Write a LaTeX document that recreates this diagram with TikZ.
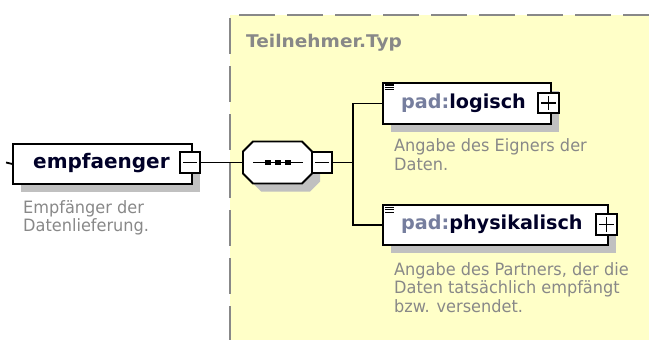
\documentclass[tikz,border=0pt]{standalone}
\usepackage{fontspec}
\setmainfont{DejaVu Sans}
\newfontfamily\descfont[FakeStretch=0.95]{DejaVu Sans}
\newfontfamily\typefont[FakeStretch=1.06]{DejaVu Sans}
\usetikzlibrary{shadows}

\definecolor{typebg}{RGB}{255,255,200}
\definecolor{frameline}{RGB}{136,136,136}
\definecolor{shadowgray}{RGB}{192,192,192}
\definecolor{descgray}{RGB}{136,136,136}
\definecolor{prefixcol}{RGB}{118,126,158}
\definecolor{namecol}{RGB}{0,0,40}

\tikzset{
  hardshadow/.style={drop shadow={shadow xshift=8pt,shadow yshift=-8pt,fill=shadowgray,opacity=1}},
  elembox/.style={draw=black,line width=1.8pt,fill=white,inner sep=0pt,anchor=north west,hardshadow},
  togglebox/.style={draw=black,line width=1.6pt,fill=white,inner sep=0pt,minimum width=20pt,minimum height=21pt},
  conn/.style={draw=black,line width=1.8pt},
  framedash/.style={draw=frameline,line width=2pt,dash pattern=on 36pt off 12pt},
  elemname/.style={anchor=base west,inner sep=0pt,font=\bfseries\fontsize{19.2}{22}\selectfont},
  desc/.style={anchor=base west,inner sep=0pt,text=descgray,font=\descfont\fontsize{17}{18.5}\selectfont},
}

% minus / plus signs inside a toggle box
\newcommand\minussign[1]{\draw[line width=1.4pt] ([xshift=4pt]#1.west) -- ([xshift=-4pt]#1.east);}
\newcommand\plussign[1]{\draw[line width=1.4pt] ([xshift=4pt]#1.west) -- ([xshift=-4pt]#1.east)
  ([yshift=-4pt]#1.north) -- ([yshift=4pt]#1.south);}
% the small "documentation" mark in the top left corner of an element
\newcommand\docmark[2]{\draw[line width=1.1pt] (#1,#2) -- ++(9,0) (#1,#2+2.4) -- ++(9,0) (#1,#2+4.8) -- ++(9,0);}

\begin{document}
\begin{tikzpicture}[x=1pt,y=-1pt]
\useasboundingbox (0,0) rectangle (649,340);

% complex type area
\fill[typebg] (230,15) rectangle (649,340);
\draw[framedash] (239,15) -- (660,15);
\draw[framedash] (230,18) -- (230,345);
\node[anchor=base west,inner sep=0pt,text=frameline,font=\typefont\bfseries\fontsize{17.5}{20}\selectfont] (typename) at (246,47) {Teilnehmer.Typ};

% root element
\node[elembox,minimum width=179pt,minimum height=40pt] (empf) at (12,143) {};
\node[elemname,text=namecol,font=\bfseries\fontsize{20}{24}\selectfont] (empfname) at (33,168) {empfaenger};
\node[togglebox] (empfm) at (190,162.5) {};
\minussign{empfm}
\coordinate (inlet) at (6,162.5);
\draw[conn] (inlet) -- (empf.west);
\node[desc] (empfdesc) at (23,213) {\vtop{\hbox{Empfänger der}\hbox{Datenlieferung.}}};

% sequence compositor
\node[inner sep=0pt,minimum width=69pt,minimum height=42pt] (seq) at (277.5,162.5) {};
\filldraw[draw=black,line width=1.8pt,fill=white,hardshadow]
  (243,151.5) -- (253,141.5) -- (302,141.5) -- (312,151.5) -- (312,173.5)
  -- (302,183.5) -- (253,183.5) -- (243,173.5) -- cycle;
\draw[line width=1.5pt] (253,162.5) -- (303,162.5);
\foreach \sx in {268,278,288} \fill (\sx-2.8,159.7) rectangle (\sx+2.8,165.3);
\node[togglebox] (seqm) at (322,162.5) {};
\minussign{seqm}
\draw[conn] (empfm.east) -- (seq.west);
\coordinate (fork) at (353,162.5);
\draw[conn] (seqm.east) -- (fork);

% child element: logisch
\node[elembox,minimum width=168pt,minimum height=41pt] (logisch) at (382,82) {};
\docmark{385}{85}
\node[elemname] (logname) at (401,108) {\textcolor{prefixcol}{pad:}\textcolor{namecol}{logisch}};
\node[togglebox,minimum width=21pt,minimum height=20pt] (logp) at (548.5,103) {};
\plussign{logp}
\node[desc] (logdesc) at (394,151.5) {\vtop{\hbox{Angabe des Eigners der}\hbox{Daten.}}};

% child element: physikalisch
\node[elembox,minimum width=225pt,minimum height=40pt] (phys) at (382,204) {};
\docmark{385}{207.5}
\node[elemname] (physname) at (401,229) {\textcolor{prefixcol}{pad:}\textcolor{namecol}{physikalisch}};
\node[togglebox,minimum width=21pt,minimum height=21pt] (physp) at (606.5,224.5) {};
\plussign{physp}
\node[desc] (physdesc) at (394,275) {\vtop{\hbox{Angabe des Partners, der die}\hbox{Daten tatsächlich empfängt}\hbox{bzw. versendet.}}};

% branches of the sequence
\draw[conn] (fork) |- (logisch.west);
\draw[conn] (fork) |- (phys.west);
\end{tikzpicture}
\end{document}
